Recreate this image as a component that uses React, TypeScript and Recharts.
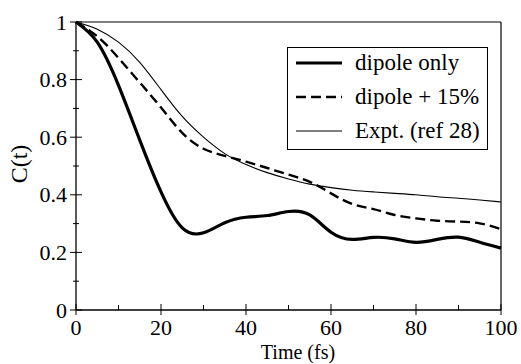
import {
  LineChart,
  Line,
  XAxis,
  YAxis,
  ReferenceLine,
  Legend,
  Customized,
} from "recharts";

const TIME = [0, 5, 10, 15, 20, 25, 30, 35, 40, 45, 50, 55, 60, 65, 70, 75, 80, 85, 90, 95, 100];

const DIPOLE_ONLY = [
  1.0, 0.93, 0.78, 0.59, 0.41, 0.285, 0.268, 0.303, 0.322, 0.328, 0.342, 0.33, 0.27, 0.245, 0.252,
  0.247, 0.235, 0.245, 0.253, 0.235, 0.215,
];

const DIPOLE_15 = [
  1.0, 0.95, 0.875, 0.79, 0.703, 0.615, 0.56, 0.535, 0.515, 0.493, 0.47, 0.445, 0.405, 0.368, 0.35,
  0.33, 0.318, 0.31, 0.307, 0.301, 0.281,
];

const EXPT = [
  1.0, 0.975, 0.93, 0.86, 0.765, 0.672, 0.6, 0.543, 0.505, 0.477, 0.455, 0.437, 0.425, 0.416, 0.41,
  0.405, 0.4, 0.393, 0.388, 0.382, 0.375,
];

const X_TICKS = [0, 10, 20, 30, 40, 50, 60, 70, 80, 90, 100];
const X_LABELS = [0, 20, 40, 60, 80, 100];
const Y_TICKS = [0, 0.1, 0.2, 0.3, 0.4, 0.5, 0.6, 0.7, 0.8, 0.9, 1];
const Y_LABELS = ["0", "0.2", "0.4", "0.6", "0.8", "1"];

const SERIES = [
  { key: "dipole", name: "dipole only", width: 3.2, dash: undefined },
  { key: "plus", name: "dipole + 15%", width: 2.4, dash: "10 5" },
  { key: "expt", name: "Expt. (ref 28)", width: 1.1, dash: undefined },
];

const FONT = "'Liberation Serif', 'Times New Roman', Tinos, 'DejaVu Serif', serif";

const data = TIME.map((t, i) => ({
  t,
  dipole: DIPOLE_ONLY[i],
  plus: DIPOLE_15[i],
  expt: EXPT[i],
}));

function YTick({ x, y, payload }: any) {
  const idx = Math.round(payload.value * 10);
  const major = idx % 2 === 0;
  return (
    <g>
      <line x1={x - (major ? 6 : 3)} x2={x + (major ? 6 : 3)} y1={y} y2={y} stroke="#000" strokeWidth={1} />
      {major && (
        <text x={x - 9} y={y + 7.5} textAnchor="end" fontFamily={FONT} fontSize={22} fill="#000">
          {Y_LABELS[idx / 2]}
        </text>
      )}
    </g>
  );
}

function XTick({ x, y, payload }: any) {
  const major = X_LABELS.includes(payload.value);
  return (
    <g>
      <line x1={x} x2={x} y1={y - (major ? 6 : 5)} y2={y + (major ? 5 : 0)} stroke="#000" strokeWidth={1} />
      {major && (
        <text x={x} y={y + 25} textAnchor="middle" fontFamily={FONT} fontSize={22} fill="#000">
          {payload.value}
        </text>
      )}
    </g>
  );
}

function LegendBox() {
  return (
    <svg width={201} height={103}>
      <rect x={0.5} y={0.5} width={200} height={102} fill="#fff" stroke="#000" strokeWidth={1} />
      {SERIES.map((s, i) => {
        const cy = 16 + i * 34;
        return (
          <g key={s.key}>
            <line
              x1={9}
              x2={55}
              y1={cy}
              y2={cy}
              stroke="#000"
              strokeWidth={s.width}
              strokeDasharray={s.dash}
            />
            <text x={68} y={cy + 7} fontFamily={FONT} fontSize={23} fill="#000">
              {s.name}
            </text>
          </g>
        );
      })}
    </svg>
  );
}

function AxisLabels() {
  return (
    <g fill="#000">
      <text x={298} y={359} textAnchor="middle" fontFamily={FONT} fontSize={20}>
        Time (fs)
      </text>
      <text x={27} y={164} textAnchor="middle" fontFamily={FONT} fontSize={24} transform="rotate(-90 27 164)">
        C(t)
      </text>
    </g>
  );
}

export default function App() {
  return (
    <div
      style={{
        position: "absolute",
        left: 0,
        top: 0,
        width: 521,
        height: 364,
        background: "#fff",
        fontFamily: FONT,
      }}
    >
      <LineChart width={521} height={364} data={data} margin={{ top: 22, right: 20, bottom: 24, left: 16 }}>
        <XAxis
          dataKey="t"
          type="number"
          domain={[0, 100]}
          ticks={X_TICKS}
          interval={0}
          tickSize={0}
          tickMargin={0}
          tickLine={false}
          tick={<XTick />}
          height={30}
          axisLine={{ stroke: "#000", strokeWidth: 1.3 }}
        />
        <YAxis
          type="number"
          domain={[0, 1]}
          ticks={Y_TICKS}
          interval={0}
          tickSize={0}
          tickMargin={0}
          tickLine={false}
          tick={<YTick />}
          width={60}
          axisLine={{ stroke: "#000", strokeWidth: 1.3 }}
        />
        <ReferenceLine y={1} stroke="#000" strokeWidth={1.2} />
        <ReferenceLine x={100} stroke="#000" strokeWidth={1.2} />
        {SERIES.map((s) => (
          <Line
            key={s.key}
            dataKey={s.key}
            name={s.name}
            type="natural"
            stroke="#000"
            strokeWidth={s.width}
            strokeDasharray={s.dash}
            dot={false}
            activeDot={false}
            isAnimationActive={false}
          />
        ))}
        <Legend
          layout="vertical"
          verticalAlign="middle"
          align="center"
          content={<LegendBox />}
          wrapperStyle={{ left: 287, top: 47, width: 201, height: 103 }}
        />
        <Customized component={<AxisLabels />} />
      </LineChart>
    </div>
  );
}
